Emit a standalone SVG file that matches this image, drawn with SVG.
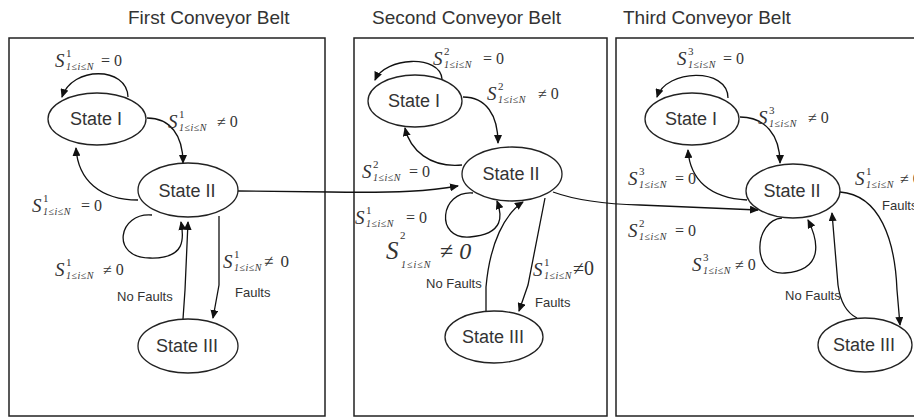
<svg xmlns="http://www.w3.org/2000/svg" width="914" height="419" viewBox="0 0 914 419">
<defs>
<marker id="ah" markerUnits="userSpaceOnUse" markerWidth="9" markerHeight="8" refX="8" refY="4" orient="auto">
<path d="M0,0 L9,4 L0,8 z" fill="#111"/>
</marker>
<style>
.frame{fill:none;stroke:#222;stroke-width:1.5}
.title{font-family:"Liberation Sans",Arial,sans-serif;font-size:19px;fill:#333}
.st{fill:#fff;stroke:#222;stroke-width:1.3}
.sl{font-family:"Liberation Sans",Arial,sans-serif;font-size:18px;fill:#333;text-anchor:middle}
.c{fill:none;stroke:#111;stroke-width:1.3;marker-end:url(#ah)}
.m{font-family:"Liberation Serif","Times New Roman",serif;font-size:16px;fill:#333}
.S{font-style:italic;font-size:19px}
.sup{font-size:11px}
.sub{font-style:italic;font-size:10px;letter-spacing:0.5px}
.rel{font-size:16px}
.f{font-family:"Liberation Sans",Arial,sans-serif;font-size:13px;fill:#333}
</style>
</defs>
<rect width="914" height="419" fill="#fff"/>

<g id="frames">
<rect class="frame" x="9" y="38" width="316" height="378"/>
<rect class="frame" x="354" y="38" width="253" height="378"/>
<rect class="frame" x="616" y="38" width="320" height="378"/>
</g>
<g id="titles">
<text class="title" x="128" y="24">First Conveyor Belt</text>
<text class="title" x="372" y="24">Second Conveyor Belt</text>
<text class="title" x="623" y="24">Third Conveyor Belt</text>
</g>

<g id="connectors">
<!-- panel 1 -->
<path class="c" d="M128,97 C127,66 72,66 62,97"/>
<path class="c" d="M147,118 C170,118 183,135 183,163"/>
<path class="c" d="M138,200 C100,200 78,180 76,148"/>
<path class="c" d="M152,215 C118,212 110,258 150,258 C186,259 184,238 181,222"/>
<path class="c" d="M183,319 L185,290 L188,222"/>
<path class="c" d="M219,216 L219,285 L213,318"/>
<path class="c" d="M238,191 L330,192 C400,193 430,191 458,186"/>
<!-- panel 2 -->
<path class="c" d="M442,79 C440,54 385,57 375,80"/>
<path class="c" d="M463,97 C486,97 498,115 498,143"/>
<path class="c" d="M462,165 C430,168 410,150 405,128"/>
<path class="c" d="M473,193 C440,190 434,240 470,237 C505,234 502,215 497,201"/>
<path class="c" d="M486,311 L486,287 C490,242 505,214 523,202"/>
<path class="c" d="M545,198 L528,285 L519,311"/>
<path class="c" d="M553,192 C575,200 600,204 640,205 L758,210"/>
<!-- panel 3 -->
<path class="c" d="M728,98 C728,67 666,69 657,97"/>
<path class="c" d="M740,117 C765,117 780,135 780,163"/>
<path class="c" d="M747,200 C710,198 690,180 688,150"/>
<path class="c" d="M782,218 C754,220 750,276 785,273 C825,270 818,240 808,220"/>
<path class="c" d="M857,318 C845,312 840,300 838,285 L832,213"/>
<path class="c" d="M840,192 C880,195 895,240 897,290 L900,325"/>
</g>

<g id="p1-state1"><ellipse class="st" cx="97" cy="119" rx="49" ry="26"/><text class="sl" x="96" y="125">State I</text></g>
<g id="p1-state2"><ellipse class="st" cx="188" cy="190" rx="50" ry="27"/><text class="sl" x="187" y="197">State II</text></g>
<g id="p1-state3"><ellipse class="st" cx="188" cy="346" rx="50" ry="27"/><text class="sl" x="187" y="352">State III</text></g>
<g id="p2-state1"><ellipse class="st" cx="415" cy="101" rx="47" ry="26"/><text class="sl" x="414" y="107">State I</text></g>
<g id="p2-state2"><ellipse class="st" cx="512" cy="174" rx="50" ry="27"/><text class="sl" x="511" y="180">State II</text></g>
<g id="p2-state3"><ellipse class="st" cx="494" cy="337" rx="49" ry="26"/><text class="sl" x="493" y="343">State III</text></g>
<g id="p3-state1"><ellipse class="st" cx="692" cy="119" rx="47" ry="26"/><text class="sl" x="691" y="125">State I</text></g>
<g id="p3-state2"><ellipse class="st" cx="793" cy="191" rx="47" ry="27"/><text class="sl" x="792" y="197">State II</text></g>
<g id="p3-state3"><ellipse class="st" cx="865" cy="345" rx="47" ry="27"/><text class="sl" x="864" y="351">State III</text></g>

<g id="labels">
<!-- panel 1 -->
<text class="m" x="55" y="67"><tspan class="S">S</tspan><tspan class="sup" x="66" dy="-10">1</tspan><tspan class="sub" x="66" dy="13">1≤i≤N</tspan><tspan class="rel" x="101" dy="-4">= 0</tspan></text>
<text class="m" x="168" y="128"><tspan class="S">S</tspan><tspan class="sup" x="179" dy="-10">1</tspan><tspan class="sub" x="179" dy="13">1≤i≤N</tspan><tspan class="rel" x="217" dy="-4">≠ 0</tspan></text>
<text class="m" x="32" y="212"><tspan class="S">S</tspan><tspan class="sup" x="43" dy="-10">1</tspan><tspan class="sub" x="43" dy="13">1≤i≤N</tspan><tspan class="rel" x="81" dy="-4">= 0</tspan></text>
<text class="m" x="55" y="276"><tspan class="S">S</tspan><tspan class="sup" x="66" dy="-10">1</tspan><tspan class="sub" x="66" dy="13">1≤i≤N</tspan><tspan class="rel" x="103" dy="-4">≠ 0</tspan></text>
<text class="m" x="223" y="268"><tspan class="S">S</tspan><tspan class="sup" x="234" dy="-10">1</tspan><tspan class="sub" x="234" dy="13">1≤i≤N</tspan><tspan class="rel" x="264" dy="-4" style="font-size:17px;word-spacing:3px">≠ 0</tspan></text>
<text class="f" x="117" y="301">No Faults</text>
<text class="f" x="235" y="297">Faults</text>
<!-- panel 2 -->
<text class="m" x="433" y="65"><tspan class="S">S</tspan><tspan class="sup" x="444" dy="-10">2</tspan><tspan class="sub" x="444" dy="13">1≤i≤N</tspan><tspan class="rel" x="483" dy="-4">= 0</tspan></text>
<text class="m" x="487" y="100"><tspan class="S">S</tspan><tspan class="sup" x="498" dy="-10">2</tspan><tspan class="sub" x="498" dy="13">1≤i≤N</tspan><tspan class="rel" x="538" dy="-4">≠ 0</tspan></text>
<text class="m" x="362" y="178"><tspan class="S">S</tspan><tspan class="sup" x="373" dy="-10">2</tspan><tspan class="sub" x="373" dy="13">1≤i≤N</tspan><tspan class="rel" x="409" dy="-4">= 0</tspan></text>
<text class="m" x="355" y="224"><tspan class="S">S</tspan><tspan class="sup" x="366" dy="-10">1</tspan><tspan class="sub" x="366" dy="13">1≤i≤N</tspan><tspan class="rel" x="406" dy="-4">= 0</tspan><tspan class="sup" x="400" dy="16">2</tspan></text>
<text class="m" x="386" y="259"><tspan class="S" style="font-size:25px">S</tspan><tspan class="sub" x="401" dy="9" style="letter-spacing:1px">1≤i≤N</tspan><tspan x="440" dy="-9" style="font-size:24px">≠ <tspan font-style="italic">0</tspan></tspan></text>
<text class="m" x="533" y="276"><tspan class="S">S</tspan><tspan class="sup" x="544" dy="-10">1</tspan><tspan class="sub" x="544" dy="13">1≤i≤N</tspan><tspan class="rel" x="573" dy="-4" style="font-size:20px">≠0</tspan></text>
<text class="f" x="426" y="288">No Faults</text>
<text class="f" x="535" y="307">Faults</text>
<!-- panel 3 -->
<text class="m" x="677" y="65"><tspan class="S">S</tspan><tspan class="sup" x="688" dy="-10">3</tspan><tspan class="sub" x="688" dy="13">1≤i≤N</tspan><tspan class="rel" x="723" dy="-4">= 0</tspan></text>
<text class="m" x="758" y="124"><tspan class="S">S</tspan><tspan class="sup" x="769" dy="-10">3</tspan><tspan class="sub" x="769" dy="13">1≤i≤N</tspan><tspan class="rel" x="808" dy="-4">≠ 0</tspan></text>
<text class="m" x="628" y="185"><tspan class="S">S</tspan><tspan class="sup" x="639" dy="-10">3</tspan><tspan class="sub" x="639" dy="13">1≤i≤N</tspan><tspan class="rel" x="675" dy="-4">= 0</tspan></text>
<text class="m" x="628" y="237"><tspan class="S">S</tspan><tspan class="sup" x="639" dy="-10">2</tspan><tspan class="sub" x="639" dy="13">1≤i≤N</tspan><tspan class="rel" x="675" dy="-4">= 0</tspan></text>
<text class="m" x="692" y="271"><tspan class="S">S</tspan><tspan class="sup" x="703" dy="-10">3</tspan><tspan class="sub" x="703" dy="13">1≤i≤N</tspan><tspan class="rel" x="735" dy="-4">≠ 0</tspan></text>
<text class="m" x="855" y="185"><tspan class="S">S</tspan><tspan class="sup" x="866" dy="-10">1</tspan><tspan class="sub" x="866" dy="13">1≤i≤N</tspan><tspan class="rel" x="900" dy="-4">≠ 0</tspan></text>
<text class="f" x="785" y="300">No Faults</text>
<text class="f" x="882" y="210">Faults</text>
</g>
</svg>
